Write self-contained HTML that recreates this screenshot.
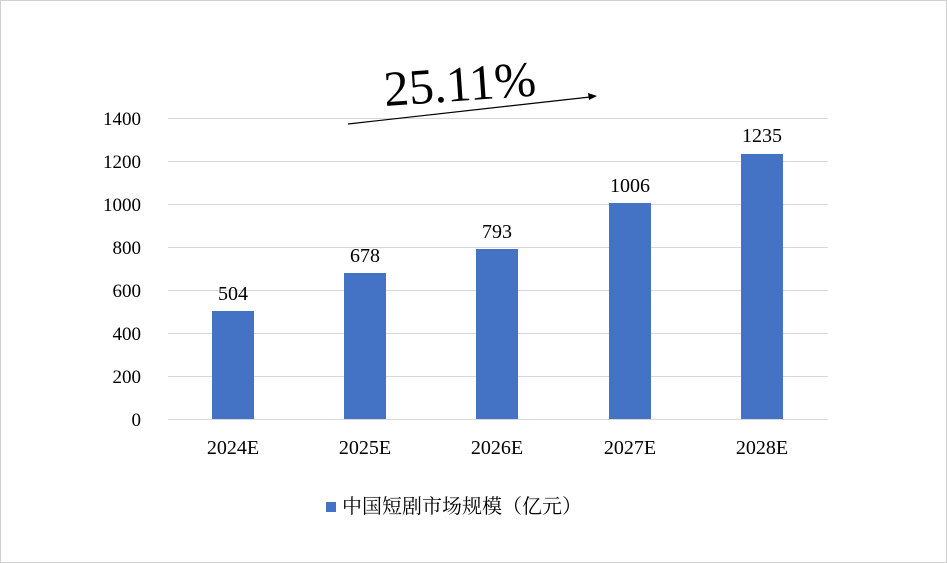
<!DOCTYPE html>
<html><head><meta charset="utf-8"><style>
body{margin:0;background:#fff}
svg{display:block}
</style></head><body>
<svg width="947" height="563" xmlns="http://www.w3.org/2000/svg">
<rect x="0.5" y="0.5" width="946" height="562" fill="#fff" stroke="#d0d0d0"/>
<g stroke="#d9d9d9" stroke-width="1">
<line x1="168" y1="118.5" x2="828" y2="118.5"/>
<line x1="168" y1="161.5" x2="828" y2="161.5"/>
<line x1="168" y1="204.5" x2="828" y2="204.5"/>
<line x1="168" y1="247.5" x2="828" y2="247.5"/>
<line x1="168" y1="290.5" x2="828" y2="290.5"/>
<line x1="168" y1="333.5" x2="828" y2="333.5"/>
<line x1="168" y1="376.5" x2="828" y2="376.5"/>
<line x1="168" y1="419.5" x2="828" y2="419.5"/>
</g>
<g font-family="Liberation Serif, serif" font-size="19" fill="#000" text-anchor="end">
<text x="141" y="125">1400</text><text x="141" y="168">1200</text><text x="141" y="211">1000</text>
<text x="141" y="254">800</text><text x="141" y="297">600</text><text x="141" y="340">400</text>
<text x="141" y="383">200</text><text x="141" y="426">0</text>
</g>
<g fill="#4472c4">
<rect x="212" y="311" width="42" height="108"/>
<rect x="344" y="273" width="42" height="146"/>
<rect x="476" y="249" width="42" height="170"/>
<rect x="609" y="203" width="42" height="216"/>
<rect x="741" y="154" width="42" height="265"/>
</g>
<g font-family="Liberation Serif, serif" font-size="20" fill="#000" text-anchor="middle">
<text x="233" y="300">504</text><text x="365" y="262">678</text><text x="497" y="238">793</text>
<text x="630" y="192">1006</text><text x="762" y="142">1235</text>
<text x="233" y="454">2024E</text><text x="365" y="454">2025E</text><text x="497" y="454">2026E</text>
<text x="630" y="454">2027E</text><text x="762" y="454">2028E</text>
</g>
<rect x="326" y="502" width="10" height="10" fill="#4472c4"/>
<text x="342" y="513" font-family="Liberation Serif, 'Noto Serif CJK SC', serif" font-size="20" fill="#000">中国短剧市场规模（亿元）</text>
<line x1="348" y1="124" x2="590" y2="97" stroke="#000" stroke-width="1.2"/>
<polygon points="597,96 588,93 589,100" fill="#000"/>
<text x="385" y="106" font-family="Liberation Serif, serif" font-size="50" fill="#000" transform="rotate(-4 385 106)">25.11%</text>
</svg>
</body></html>
